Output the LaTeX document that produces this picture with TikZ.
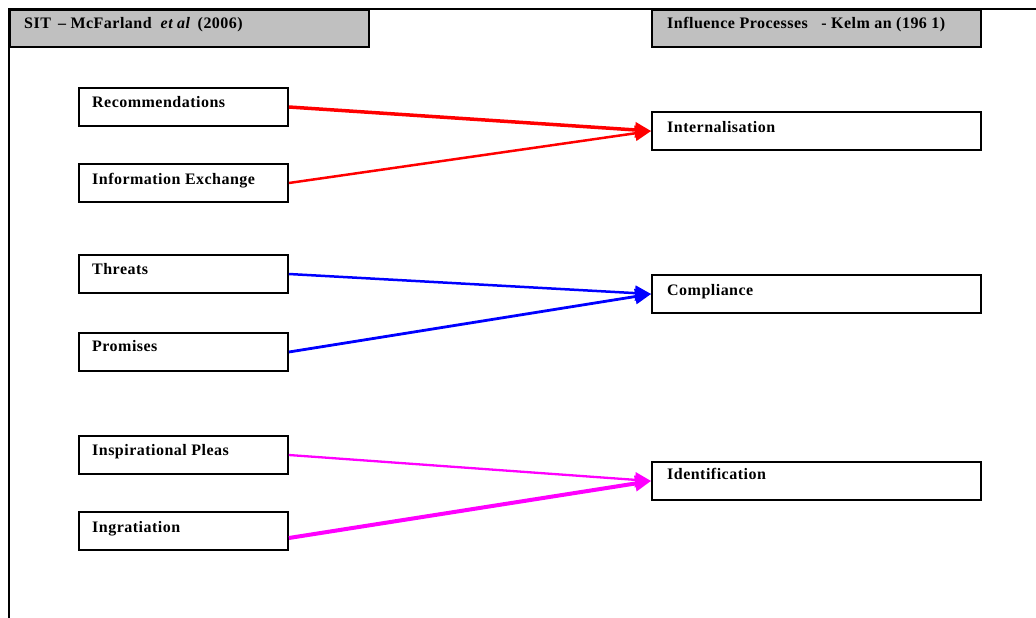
\documentclass[tikz,border=0pt]{standalone}
\usepackage{fontspec}
\setmainfont{Liberation Serif}[LetterSpace=3]
\usetikzlibrary{arrows.meta}
\definecolor{hdrgray}{RGB}{192,192,192}
\definecolor{magentaA}{RGB}{255,0,255}
\tikzset{
  box/.style={draw=black, line width=1.8pt, fill=white, inner sep=0pt},
  hdr/.style={draw=black, line width=1.8pt, fill=hdrgray},
  lbl/.style={anchor=base west, font=\fontsize{16}{19}\selectfont\bfseries, inner sep=0pt},
  arr/.style={-{Triangle[length=16pt,width=15pt]}},
}
\begin{document}
\begin{tikzpicture}[x=1pt,y=-1pt]
\useasboundingbox (0,0) rectangle (1036,618);
% outer frame
\draw[line width=1.3pt] (9,618) -- (9,9) -- (1040,9);
% headers
\draw[hdr] (10,10) rectangle (369,47);
\node[lbl] (h1) at (24,29) {SIT \,– McFarland \;\textit{et al} \,(2006)};
\draw[hdr] (652,10) rectangle (981,47);
\node[lbl] (h2) at (667,29) {Influence Processes \;\;- Kelm an (196 1)};
% left boxes
\node[box, minimum width=209pt, minimum height=38pt] (rec) at (183.5,107) {};
\node[box, minimum width=209pt, minimum height=38pt] (inf) at (183.5,183) {};
\node[box, minimum width=209pt, minimum height=38pt] (thr) at (183.5,274) {};
\node[box, minimum width=209pt, minimum height=38pt] (pro) at (183.5,352) {};
\node[box, minimum width=209pt, minimum height=38pt] (ins) at (183.5,455) {};
\node[box, minimum width=209pt, minimum height=38pt] (ing) at (183.5,531) {};
% right boxes
\node[box, minimum width=329pt, minimum height=38pt] (int) at (816.5,131) {};
\node[box, minimum width=329pt, minimum height=38pt] (com) at (816.5,294) {};
\node[box, minimum width=329pt, minimum height=38pt] (ide) at (816.5,481) {};
% labels
\node[lbl] (trec) at (92,107) {Recommendations};
\node[lbl] (tinf) at (92,184) {Information Exchange};
\node[lbl] (tthr) at (92,274) {Threats};
\node[lbl] (tpro) at (92,351) {Promises};
\node[lbl] (tins) at (92,455) {Inspirational Pleas};
\node[lbl] (ting) at (92,532) {Ingratiation};
\node[lbl] (tint) at (667,132) {Internalisation};
\node[lbl] (tcom) at (667,295) {Compliance};
\node[lbl] (tide) at (667,479) {Identification};
% arrows
\draw[arr, red, line width=3.5pt] (rec.east) -- (int.west);
\draw[arr, red, line width=2.5pt] (inf.east) -- (int.west);
\draw[arr, blue, line width=2.5pt] (thr.east) -- (com.west);
\draw[arr, blue, line width=2.8pt] (pro.east) -- (com.west);
\draw[arr, magentaA, line width=2.3pt] (ins.east) -- (ide.west);
\draw[arr, magentaA, line width=4pt] ([yshift=-7pt]ing.east) -- (ide.west);
\end{tikzpicture}
\end{document}
